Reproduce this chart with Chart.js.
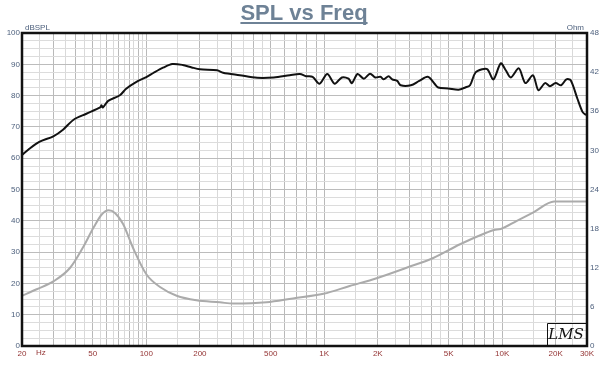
<!DOCTYPE html>
<html>
<head>
<meta charset="utf-8">
<script src="https://cdn.jsdelivr.net/npm/chart.js@4/dist/chart.umd.min.js"></script>
<style>
  body { margin: 0; background: #fff; }
  canvas { display: block; }
</style>
</head>
<body>
<canvas id="chart" width="616" height="375"></canvas>
<script>
// SPL response (dB)
var freqSPL = [20, 22, 25, 30, 34, 39, 46, 55, 56, 57, 61, 71, 77, 88, 100, 110, 125, 140, 160, 180,
    200, 250, 270, 335, 420, 520, 640, 730, 790, 860, 940, 1040, 1145, 1256, 1370, 1430, 1540, 1670,
    1810, 1935, 2070, 2160, 2300, 2410, 2570, 2690, 3070, 3420, 3820, 4170, 4370, 4990, 5690, 6210,
    6600, 7070, 7720, 8260, 8940, 9820, 10480, 11190, 12410, 13520, 14910, 16000, 17430, 18570,
    20000, 21460, 22980, 24300, 26500, 28300, 29300, 30000];
var spl = [61, 63, 65.2, 67, 69.1, 72.3, 74.2, 76.2, 76.9, 76.2, 78.3, 80.1, 82.2, 84.4, 85.9, 87.3, 89, 90.1, 89.8, 89.0,
    88.4, 88.1, 87.3, 86.5, 85.7, 85.8, 86.5, 86.9, 86.2, 86.0, 83.8, 86.9, 83.8, 85.8, 85.4, 84.0, 86.9, 85.4,
    87.0, 85.8, 86.0, 85.2, 86.2, 85.2, 84.7, 83.3, 83.3, 84.7, 86.0, 83.8, 82.6, 82.3, 81.9, 82.6,
    83.3, 87.3, 88.4, 88.4, 85.2, 90.3, 88.1, 85.8, 88.7, 84.0, 86.5, 81.7, 84.0, 83.0,
    84.0, 83.3, 85.2, 84.9, 79.0, 74.8, 74.0, 73.8];

// impedance (Ohm)
var freqZ = [20, 24.2, 30, 37.3, 44, 50.6, 56.3, 61.4, 66.6, 74, 84, 100, 120, 148, 191, 259, 308, 474,
    667, 990, 1390, 1970, 2900, 4100, 5800, 8200, 9000, 9820, 12100, 15000, 19600, 30000];
var ohm = [7.7, 8.7, 9.9, 12.0, 15.1, 18.2, 20.2, 20.8, 20.4, 18.7, 15.1, 11.0, 9.0, 7.7, 7.0, 6.7, 6.5, 6.7,
    7.3, 8.0, 9.2, 10.4, 12.0, 13.5, 15.6, 17.4, 17.8, 17.95, 19.2, 20.5, 22.15, 22.15];

// frequency grid lines and labels
var gridFreqs = [20, 25, 30, 35, 40, 45, 50, 55, 60, 65, 70, 75, 80, 85, 90, 95, 100, 150, 200, 250, 300, 350,
    400, 450, 500, 600, 700, 800, 900, 1000, 1500, 2000, 2500, 3000, 3500, 4000, 4500, 5000, 6000, 7000,
    8000, 9000, 10000, 15000, 20000, 25000, 30000];
var labelFreqs = [20, 50, 100, 200, 500, 1000, 2000, 5000, 10000, 20000, 30000];
var labelTexts = ['20', '50', '100', '200', '500', '1K', '2K', '5K', '10K', '20K', '30K'];

Chart.defaults.font.family = '"Liberation Sans", Arial, sans-serif';
Chart.defaults.font.size = 8;

function isMajor(v) {
    var s = v / Math.pow(10, Math.floor(Math.log10(v) + 1e-9));
    return Math.abs(s - Math.round(s)) < 1e-6;
}

// frame, title and the small captions round the plot
var decorations = {
    id: 'decorations',
    afterDraw: function(chart) {
        var ctx = chart.ctx;
        var a = chart.chartArea;
        ctx.save();

        ctx.strokeStyle = '#111';
        ctx.lineWidth = 1;
        ctx.beginPath();
        ctx.moveTo(547.5, a.bottom);
        ctx.lineTo(547.5, 323.5);
        ctx.lineTo(a.right, 323.5);
        ctx.stroke();
        ctx.fillStyle = '#111';
        ctx.font = 'italic 15px "DejaVu Serif", serif';
        ctx.textAlign = 'center';
        ctx.textBaseline = 'middle';
        ctx.fillText('LMS', 566, 335);

        ctx.lineWidth = 2.5;
        ctx.strokeRect(a.left, a.top, a.right - a.left, a.bottom - a.top);

        ctx.fillStyle = '#6e8296';
        ctx.font = 'bold 22px "Liberation Sans", Arial, sans-serif';
        ctx.textAlign = 'center';
        ctx.textBaseline = 'alphabetic';
        var title = 'SPL vs Freq';
        ctx.fillText(title, 304, 20);
        var w = ctx.measureText(title).width;
        ctx.fillRect(304 - w / 2, 22, w, 2);

        ctx.font = '8px "Liberation Sans", Arial, sans-serif';
        ctx.fillStyle = '#4c5f7c';
        ctx.textAlign = 'left';
        ctx.fillText('dBSPL', 25, 30);
        ctx.textAlign = 'right';
        ctx.fillText('Ohm', 584, 30);

        ctx.fillStyle = '#943434';
        ctx.textAlign = 'left';
        ctx.textBaseline = 'top';
        ctx.fillText('Hz', 36, a.bottom + 3);
        ctx.restore();
    }
};

var ctx = document.getElementById('chart');
var chart = new Chart(ctx, {
    type: 'line',
    data: {
        datasets: [{
            label: 'SPL',
            data: freqSPL.map(function(f, i) { return { x: f, y: spl[i] }; }),
            borderColor: '#111111',
            borderWidth: 2,
            pointRadius: 0,
            tension: 0.3,
            yAxisID: 'y'
        }, {
            label: 'Impedance',
            data: freqZ.map(function(f, i) { return { x: f, y: ohm[i] }; }),
            borderColor: '#ababab',
            borderWidth: 2,
            pointRadius: 0,
            cubicInterpolationMode: 'monotone',
            yAxisID: 'yR'
        }]
    },
    options: {
        responsive: false,
        animation: false,
        devicePixelRatio: 1,
        layout: { padding: { top: 33 } },
        plugins: {
            legend: { display: false },
            tooltip: { enabled: false }
        },
        scales: {
            x: {
                type: 'logarithmic',
                min: 20,
                max: 30000,
                afterBuildTicks: function(scale) {
                    scale.ticks = gridFreqs.map(function(v) { return { value: v }; });
                },
                afterFit: function(scale) { scale.height = 29; },
                border: { display: false },
                grid: {
                    drawTicks: false,
                    color: function(c) {
                        return c.tick && isMajor(c.tick.value) ? '#b9b9b9' : '#d9d9d9';
                    }
                },
                ticks: {
                    autoSkip: false,
                    maxRotation: 0,
                    padding: 3,
                    color: '#943434',
                    callback: function(value) {
                        var i = labelFreqs.indexOf(value);
                        return i >= 0 ? labelTexts[i] : '';
                    }
                }
            },
            y: {
                position: 'left',
                min: 0,
                max: 100,
                afterFit: function(scale) { scale.width = 22; },
                border: { display: false },
                grid: {
                    drawTicks: false,
                    color: function(c) {
                        return c.tick && c.tick.value % 10 === 0 ? '#bcbcbc' : '#dcdcdc';
                    }
                },
                ticks: {
                    stepSize: 2.5,
                    autoSkip: false,
                    padding: 2,
                    color: '#4c5f7c',
                    callback: function(v) { return v % 10 === 0 ? v : ''; }
                }
            },
            yR: {
                position: 'right',
                min: 0,
                max: 48,
                afterFit: function(scale) { scale.width = 29; },
                border: { display: false },
                grid: { drawOnChartArea: false, drawTicks: false },
                ticks: {
                    stepSize: 6,
                    autoSkip: false,
                    padding: 3,
                    color: '#4c5f7c'
                }
            }
        }
    },
    plugins: [decorations]
});
</script>
</body>
</html>
